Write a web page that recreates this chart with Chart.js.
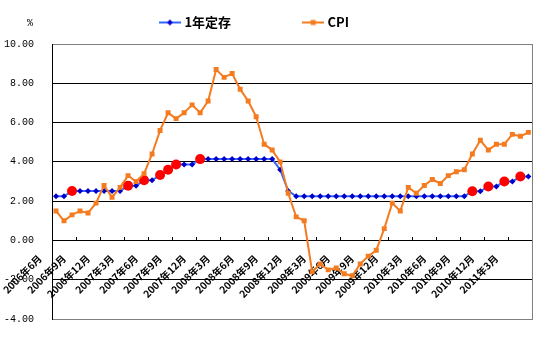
<!DOCTYPE html>
<html>
<head>
<meta charset="utf-8">
<script src="https://cdn.jsdelivr.net/npm/chart.js@4.4.1/dist/chart.umd.min.js"></script>
<style>
  html, body { margin: 0; padding: 0; background: #fff; }
</style>
</head>
<body>
<canvas id="rateChart" width="553" height="339"></canvas>
<script>
// 2006年6月 - 2011年5月, monthly
const months = [
  '2006年6月', '2006年7月', '2006年8月', '2006年9月', '2006年10月', '2006年11月', '2006年12月',
  '2007年1月', '2007年2月', '2007年3月', '2007年4月', '2007年5月', '2007年6月',
  '2007年7月', '2007年8月', '2007年9月', '2007年10月', '2007年11月', '2007年12月',
  '2008年1月', '2008年2月', '2008年3月', '2008年4月', '2008年5月', '2008年6月',
  '2008年7月', '2008年8月', '2008年9月', '2008年10月', '2008年11月', '2008年12月',
  '2009年1月', '2009年2月', '2009年3月', '2009年4月', '2009年5月', '2009年6月',
  '2009年7月', '2009年8月', '2009年9月', '2009年10月', '2009年11月', '2009年12月',
  '2010年1月', '2010年2月', '2010年3月', '2010年4月', '2010年5月', '2010年6月',
  '2010年7月', '2010年8月', '2010年9月', '2010年10月', '2010年11月', '2010年12月',
  '2011年1月', '2011年2月', '2011年3月', '2011年4月', '2011年5月'
];

// 1年定期存款利率 (%)
const depositRate = [
  2.25, 2.25, 2.52, 2.52, 2.52, 2.52, 2.52,
  2.52, 2.52, 2.79, 2.79, 3.06, 3.06, 3.33, 3.60, 3.87, 3.87, 3.87, 4.14,
  4.14, 4.14, 4.14, 4.14, 4.14, 4.14, 4.14, 4.14, 4.14, 3.60, 2.52, 2.25,
  2.25, 2.25, 2.25, 2.25, 2.25, 2.25, 2.25, 2.25, 2.25, 2.25, 2.25, 2.25,
  2.25, 2.25, 2.25, 2.25, 2.25, 2.25, 2.25, 2.25, 2.25, 2.50, 2.50, 2.75,
  2.75, 3.00, 3.00, 3.25, 3.25
];

// CPI 同比 (%)
const cpi = [
  1.5, 1.0, 1.3, 1.5, 1.4, 1.9, 2.8,
  2.2, 2.7, 3.3, 3.0, 3.4, 4.4, 5.6, 6.5, 6.2, 6.5, 6.9, 6.5,
  7.1, 8.7, 8.3, 8.5, 7.7, 7.1, 6.3, 4.9, 4.6, 4.0, 2.4, 1.2,
  1.0, -1.6, -1.2, -1.5, -1.4, -1.7, -1.8, -1.2, -0.8, -0.5, 0.6, 1.9,
  1.5, 2.7, 2.4, 2.8, 3.1, 2.9, 3.3, 3.5, 3.6, 4.4, 5.1, 4.6,
  4.9, 4.9, 5.4, 5.3, 5.5
];

// months with a rate hike, marked with a red dot
const hikeMonths = [
  '2006年8月', '2007年3月', '2007年5月', '2007年7月', '2007年8月', '2007年9月',
  '2007年12月', '2010年10月', '2010年12月', '2011年2月', '2011年4月'
];

const yMin = -4;
const yMax = 10;
const yStep = 2;
const labelEvery = 3;

const BLUE_LINE = '#3366FF';
const BLUE_MARK = '#0000CC';
const ORANGE = '#F47B20';
const RED = '#FF0000';

const isHike = i => hikeMonths.includes(months[i]);

// little line+marker swatches for the legend
function legendSwatch(lineColor, markColor, shape) {
  const c = document.createElement('canvas');
  c.width = 22;
  c.height = 8;
  const g = c.getContext('2d');
  g.strokeStyle = lineColor;
  g.lineWidth = 2;
  g.beginPath();
  g.moveTo(0, 4);
  g.lineTo(22, 4);
  g.stroke();
  g.fillStyle = markColor;
  if (shape === 'diamond') {
    g.beginPath();
    g.moveTo(11, 1);
    g.lineTo(14, 4);
    g.lineTo(11, 7);
    g.lineTo(8, 4);
    g.closePath();
    g.fill();
  } else {
    g.fillRect(8.5, 1.5, 5, 5);
  }
  return c;
}
const swatches = [legendSwatch(BLUE_LINE, BLUE_MARK, 'diamond'), legendSwatch(ORANGE, ORANGE, 'square')];

// nudges the legend row and writes the % unit above the value axis
const headerPlugin = {
  id: 'header',
  afterLayout(chart) {
    const lg = chart.legend;
    lg.left -= 21;
    lg.right -= 21;
    lg.top -= 5;
    lg.bottom -= 5;
  },
  afterDraw(chart) {
    const ctx = chart.ctx;
    ctx.save();
    ctx.font = '10px "Liberation Mono"';
    ctx.fillStyle = '#000';
    ctx.textAlign = 'center';
    ctx.textBaseline = 'middle';
    ctx.fillText('%', 30, 23);
    ctx.restore();
  }
};

new Chart(document.getElementById('rateChart'), {
  type: 'line',
  data: {
    labels: months,
    datasets: [{
      label: '1年定存',
      data: depositRate,
      borderColor: BLUE_LINE,
      borderWidth: 2,
      tension: 0,
      order: 1,
      pointStyle: ctx => isHike(ctx.dataIndex) ? 'circle' : 'rectRot',
      pointRadius: ctx => isHike(ctx.dataIndex) ? 5 : 3,
      pointBackgroundColor: ctx => isHike(ctx.dataIndex) ? RED : BLUE_MARK,
      pointBorderColor: ctx => isHike(ctx.dataIndex) ? RED : BLUE_MARK,
      pointBorderWidth: 0
    }, {
      label: 'CPI',
      data: cpi,
      borderColor: ORANGE,
      borderWidth: 2,
      tension: 0,
      order: 0,
      pointStyle: 'rect',
      pointRadius: 3.5,
      pointBackgroundColor: ORANGE,
      pointBorderColor: ORANGE,
      pointBorderWidth: 0
    }]
  },
  options: {
    responsive: false,
    animation: false,
    layout: {
      padding: { left: 0, right: 0, top: -53, bottom: 20 }
    },
    plugins: {
      tooltip: { enabled: false },
      legend: {
        position: 'top',
        labels: {
          usePointStyle: true,
          pointStyleWidth: 16,
          padding: 74,
          color: '#000',
          font: { family: '"Noto Sans CJK SC"', size: 13, weight: 'bold' },
          sort: (a, b) => a.datasetIndex - b.datasetIndex,
          generateLabels(chart) {
            const items = Chart.defaults.plugins.legend.labels.generateLabels(chart);
            items.forEach(item => { item.pointStyle = swatches[item.datasetIndex]; });
            return items;
          }
        }
      }
    },
    scales: {
      x: {
        type: 'category',
        position: { y: 0 },
        offset: true,
        grid: {
          offset: true,
          drawOnChartArea: false,
          drawTicks: true,
          tickLength: -4,
          tickColor: ctx => ctx.index % labelEvery === 0 ? '#000' : 'rgba(0,0,0,0)'
        },
        border: { color: '#000', width: 1 },
        ticks: {
          autoSkip: false,
          minRotation: 45,
          maxRotation: 45,
          padding: 16,
          labelOffset: -16,
          color: '#000',
          font: { family: '"Noto Sans CJK SC"', size: 10, weight: 'bold' },
          callback: function (value, index) {
            return index % labelEvery === 0 ? this.getLabelForValue(value) : '';
          }
        }
      },
      y: {
        min: yMin,
        max: yMax,
        afterFit: scale => { scale.width = 52; },
        grid: {
          drawTicks: true,
          tickLength: 16,
          tickColor: 'rgba(0,0,0,0)',
          color: ctx => (ctx.tick.value === yMax || ctx.tick.value === yMin) ? '#808080' : '#000'
        },
        border: { color: '#000', width: 1 },
        ticks: {
          stepSize: yStep,
          padding: 2,
          color: '#000',
          font: { family: '"Liberation Mono"', size: 10 },
          callback: v => v.toFixed(2)
        }
      },
      y2: {
        type: 'linear',
        position: 'right',
        afterFit: scale => { scale.width = 17; },
        grid: { display: false },
        ticks: { display: false },
        border: { color: '#808080', width: 1 }
      }
    }
  },
  plugins: [headerPlugin]
});
</script>
</body>
</html>
